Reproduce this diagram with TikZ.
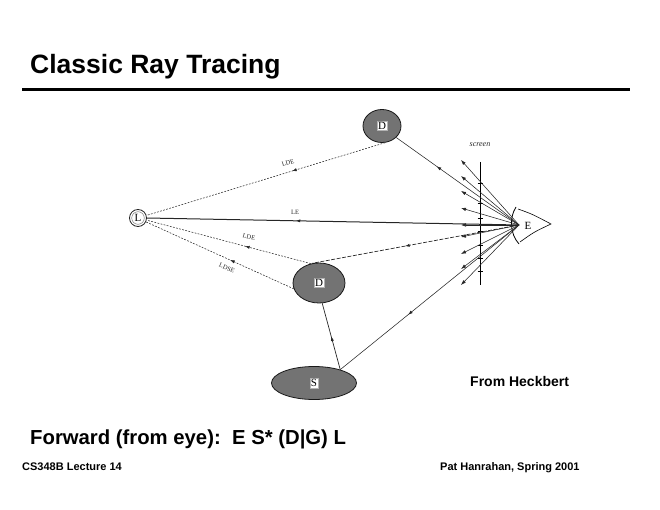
\documentclass[tikz,border=0pt]{standalone}
\usepackage{fontspec}
\setmainfont{Liberation Sans}
\newfontfamily\sketchfont{Liberation Serif}
\usetikzlibrary{arrows.meta,decorations.markings,shapes.geometric}
\tikzset{
	blob/.style={ellipse, draw=black!90, line width=0.8pt, fill=black!55, inner sep=0pt},
	tag/.style={fill=white, draw=black!30, line width=0.3pt, inner sep=1pt, font=\sketchfont\fontsize{11}{11}\selectfont},
	raylabel/.style={font=\sketchfont\fontsize{6.5}{6.5}\selectfont, inner sep=0.5pt, color=black!85},
	midarrow/.style={postaction={decorate}, decoration={markings, mark=at position #1 with {\arrow{Latex[length=4.5pt,width=3.2pt]}}}},
	shadowray/.style={dash pattern=on 1.8pt off 1.4pt, line width=0.55pt, color=black!85},
	eyeray/.style={line width=0.55pt, color=black!85},
	longdash/.style={dash pattern=on 4pt off 1.5pt, line width=0.7pt, color=black!85},
	slidetext/.style={font=\bfseries, inner sep=0pt, anchor=base west},
}
\begin{document}
\begin{tikzpicture}[x=1pt, y=-1pt]
		%%%%% START %%%%%
		\useasboundingbox (0,0) rectangle (660,510);
		
		\node[slidetext, font=\bfseries\fontsize{26.5}{26.5}\selectfont] (title) at (30,74) {Classic Ray Tracing};
		\draw[line width=3pt] (22,90) -- (630,90);
		
		% objects
		\node[circle, draw=black!85, line width=0.8pt, minimum size=17pt, inner sep=0pt, font=\sketchfont\fontsize{11}{11}\selectfont] (L) at (138,218) {L};
		\draw[black!60, line width=0.4pt] (L) circle (6.3);
		\node[blob, minimum width=38pt, minimum height=33pt] (D1) at (382,126) {};
		\node[tag] (D1t) at (D1) {D};
		\node[blob, minimum width=52pt, minimum height=40pt] (D2) at (319,283) {};
		\node[tag] (D2t) at (D2) {D};
		\node[blob, minimum width=85pt, minimum height=33pt] (S) at (314,383) {};
		\node[tag] (St) at (S) {S};
		
		% eye
		\coordinate (Eo) at (519,225);
		\node[font=\sketchfont\fontsize{11}{11}\selectfont, inner sep=0pt] (E) at (528,226) {E};
		\draw[line width=0.8pt] (516,207) .. controls (509,218) and (510,234) .. (519,244);
		\draw[line width=0.6pt] (518,209) .. controls (532,214) .. (551,224) .. controls (534,232) .. (520,242);
		
		% screen
		\coordinate (scrtop) at (480,162);
		\coordinate (scrbot) at (480,285);
		\draw[line width=0.7pt] (scrtop) -- (scrbot);
		\foreach \y in {183,203,218,231,245,258,271}
			\draw[line width=0.5pt] (477.5,\y) -- (482.5,\y);
		\node[font=\sketchfont\itshape\fontsize{8}{8}\selectfont, color=black!85] (scrlabel) at (480,145) {screen};
		
		% rays to the light
		\draw[shadowray, midarrow=0.39] (D1.-79) -- (L.17);
		\draw[eyeray, line width=1pt, midarrow=0.6] (Eo) -- (L.east);
		\draw[shadowray, midarrow=0.4] (D2.113) -- (L.-14);
		\draw[shadowray, midarrow=0.43] (D2.193) -- (L.-26);
		
		\node[raylabel, rotate=17] (lde1) at (288,163) {LDE};
		\node[raylabel] (le) at (295,212) {LE};
		\node[raylabel, rotate=-14] (lde2) at (249,237) {LDE};
		\node[raylabel, rotate=-24] (ldse) at (227,268) {LDSE};
		
		% rays from the eye
		\draw[eyeray, midarrow=0.67] (Eo) -- (D1.-39);
		\draw[longdash, midarrow=0.55] (Eo) -- (D2.110);
		\draw[eyeray, midarrow=0.62] (Eo) -- (S.27);
		\draw[eyeray, line width=0.7pt, midarrow=0.5] (S.27) -- (D2.-81);
		
		\foreach \y [count=\i] in {160,176,191,208,225,237,254,269,285}
			\coordinate (f\i) at (461,\y);
		\foreach \i in {1,...,9}
			\draw[eyeray, -{Latex[length=5pt,width=3.5pt]}] (Eo) -- (f\i);
		
		% slide text
		\node[slidetext, font=\bfseries\fontsize{14}{14}\selectfont] (credit) at (470,386) {From Heckbert};
		\node[slidetext, font=\bfseries\fontsize{20.3}{20.3}\selectfont] (forward) at (30,444) {Forward (from eye):\ \ E S* (D|G) L};
		\node[slidetext, font=\bfseries\fontsize{11}{11}\selectfont] (course) at (22,470) {CS348B Lecture 14};
		\node[slidetext, font=\bfseries\fontsize{11}{11}\selectfont] (author) at (440,470) {Pat Hanrahan, Spring 2001};
		
		%%%%% END %%%%%
	\end{tikzpicture}
\end{document}
